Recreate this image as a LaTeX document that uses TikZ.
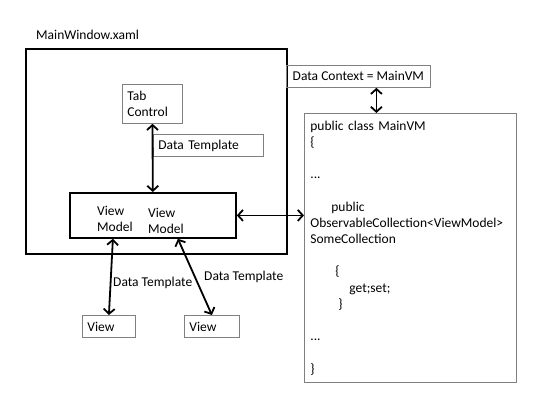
\documentclass[tikz,border=0pt]{standalone}
\usepackage{fontspec}
\setmainfont{Carlito}
\usetikzlibrary{arrows.meta}

\begin{document}
\begin{tikzpicture}[x=1pt, y=-1pt, font=\fontsize{13.5}{16.2}\selectfont]
	\tikzstyle{frame}=[rectangle, draw=black, line width=1.8pt, inner sep=0pt]
	\tikzstyle{box}=[rectangle, draw=black!50, line width=0.8pt, inner xsep=5pt, inner ysep=2pt, align=left]
	\tikzstyle{txt}=[inner sep=0pt, align=left]
	\tikzstyle{connect}=[line width=1.8pt, {Straight Barb[length=5pt,width=11pt]}-{Straight Barb[length=5pt,width=11pt]}]
	\useasboundingbox (0,0) rectangle (540,405);
	\node[txt, anchor=west]                                                  (title) at (36,35)   {MainWindow.xaml};
	\node[frame, minimum width=261pt, minimum height=205pt, anchor=north west] (win)  at (25,48)   {};
	\node[box, text width=50pt, minimum height=39pt, anchor=north west]       (tab)   at (122,84)  {Tab\\Control};
	\node[box, text width=100pt, minimum height=22pt, anchor=north west]      (tmpl)  at (153,134) {Data Template};
	\node[frame, minimum width=166pt, minimum height=45pt, anchor=north west]  (vm)   at (69,192)  {};
	\node[txt, anchor=north west]                                             (vma)   at (97,206)  {View\\Model};
	\node[txt, anchor=north west]                                             (vmb)   at (148,208) {View\\Model};
	
	\node[box, minimum width=144pt, minimum height=22pt, anchor=north west]   (ctx)   at (286,65)  {Data Context = MainVM};
	\node[box, text width=200pt, minimum height=269pt, inner xsep=6pt, anchor=north west] (cls) at (304,113) {public class MainVM\\
		\{\\
		\mbox{}\\
		...\\
		\mbox{}\\
		\hspace*{21pt}public\\
		ObservableCollection<ViewModel>\\
		SomeCollection\\
		\mbox{}\\
		\hspace*{25pt}\{\\
		\hspace*{39pt}get;set;\\
		\hspace*{28pt}\}\\
		\mbox{}\\
		...\\
		\mbox{}\\
		\}};
	
	\node[box, text width=43pt, minimum height=22pt, anchor=north west]       (v1)    at (82,315)  {View};
	\node[box, text width=45pt, minimum height=22pt, anchor=north west]       (v2)    at (184,315) {View};
	\node[txt, anchor=west]                                                   (lbla)  at (113,283) {Data Template};
	\node[txt, anchor=west]                                                   (lblb)  at (204,277) {Data Template};
	
	\draw[connect] (tab) -- (vm);
	\draw[connect] (vm.east) -- (vm.east -| cls.west);
	\draw[connect] ([xshift=18pt]ctx.south) -- ([xshift=18pt]ctx.south |- cls.north);
	\draw[connect] ([xshift=-40pt]vm.south) -- (v1.north);
	\draw[connect] ([xshift=25pt]vm.south) -- (v2.north);
	
\end{tikzpicture}
\end{document}
